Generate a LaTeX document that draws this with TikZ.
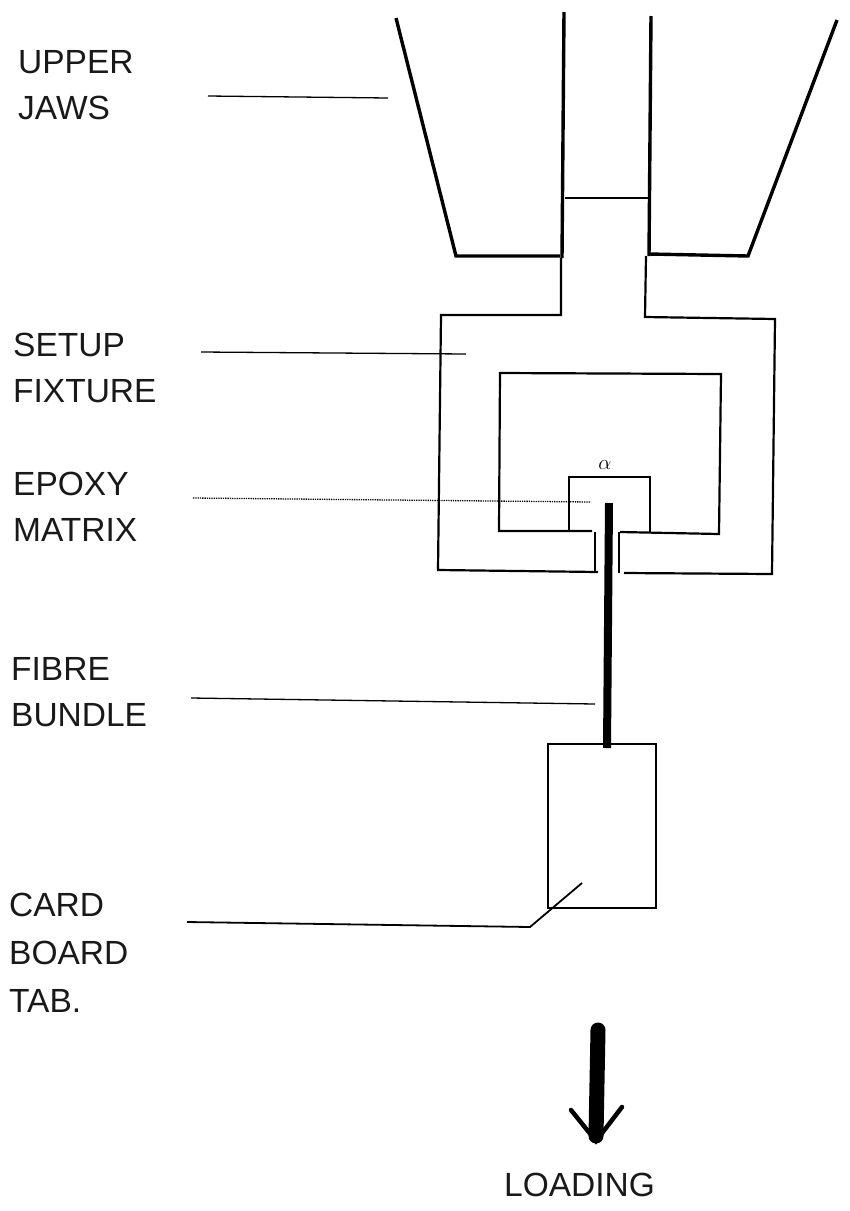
\documentclass[tikz,border=0pt]{standalone}
\usepackage{fontspec}
\setmainfont{Liberation Sans}
\usetikzlibrary{positioning}
\begin{document}
\begin{tikzpicture}[x=1pt,y=-1pt,
    lbl/.style={font=\fontsize{33.5}{46}\selectfont, align=left, anchor=west, inner sep=0pt, text=black!90},
    wall/.style={line width=2.2pt, line join=miter},
    jaw/.style={line width=3.4pt},
    leader/.style={line width=1.3pt},
    fibre/.style={line width=8pt},
    load/.style={line width=15pt, line cap=round}
]
    \useasboundingbox (0,0) rectangle (850,1211);

    % Labels
    \node[lbl] (upper) at (18,85) {UPPER\\JAWS};
    \node[lbl] (setup) at (13,368) {SETUP\\FIXTURE};
    \node[lbl] (epoxy) at (13,507) {EPOXY\\MATRIX};
    \node[lbl] (bundle) at (11,692) {FIBRE\\BUNDLE};
    \node[lbl, font=\fontsize{33.5}{48}\selectfont] (card) at (9,953) {CARD\\BOARD\\TAB.};
    \node[lbl] (loading) at (504,1185) {LOADING};

    % Upper jaws
    \draw[jaw] (396,18) -- (456,256) -- (560,256);
    \draw[jaw] (837,20) -- (748,256) -- (649,254);
    \draw[jaw] (564,12) -- (562,258);
    \draw[jaw] (651,16) -- (649,256);
    \draw[wall] (565,198) -- (648,198);

    % Setup fixture
    \draw[wall] (561,258) -- (561,315) -- (441,315) -- (438,570) -- (598,572);
    \draw[wall] (646,256) -- (645,317) -- (775,319) -- (772,574) -- (624,573);
    \draw[wall] (592,531) -- (499,531) -- (500,373) -- (721,374) -- (719,534) -- (620,532);
    \draw[wall] (595,532) -- (595,571);
    \draw[wall] (619,532) -- (619,573);

    % Epoxy block
    \draw[wall] (569,531) -- (569,477) -- (650,477) -- (650,532);
    \node[inner sep=0pt, font=\fontsize{20}{20}\selectfont] (mark) at (605,465) {$\alpha$};

    % Card board tab
    \node[draw, line width=2.2pt, minimum width=108pt, minimum height=164pt, inner sep=0pt] (tab) at (602,826) {};

    % Fibre and load arrow
    \draw[fibre] (609,503) -- (607,748);
    \draw[load] (598,1030) -- (596,1136);
    \draw[line width=4.5pt, line cap=round] (571,1110) -- (596,1141) -- (622,1107);

    % Leaders
    \coordinate (upperend) at (388,98);
    \draw[leader] (208,96) -- (upperend);
    \coordinate (setupend) at (466,354);
    \draw[leader] (201,352) -- (setupend);
    \coordinate (epoxyend) at (591,502);
    \draw[leader, densely dotted] (193,498) -- (epoxyend);
    \coordinate (bundleend) at (595,704);
    \draw[leader] (191,698) -- (bundleend);
    \coordinate (cardend) at (530,927);
    \coordinate (cardtick) at (582,883);
    \draw[line width=1.8pt] (187,922) -- (cardend) -- (cardtick);

\end{tikzpicture}
\end{document}
